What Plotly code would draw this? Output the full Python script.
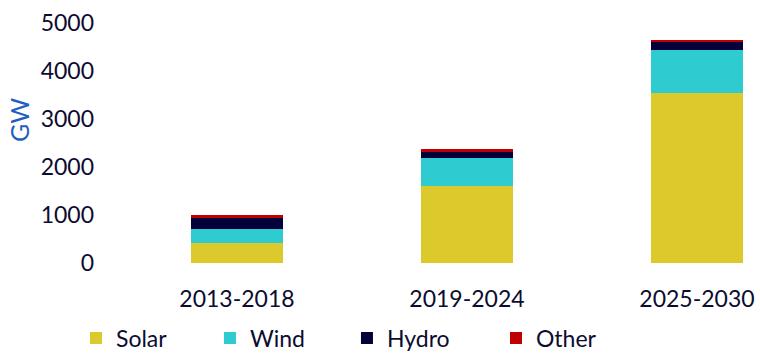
import plotly.graph_objects as go

periods = ["2013-2018", "2019-2024", "2025-2030"]
solar = [425, 1610, 3550]
wind = [285, 580, 890]
hydro = [230, 130, 165]
other = [50, 55, 30]

series = [
    ("Solar", solar, "#DCC92B"),
    ("Wind", wind, "#2ECBD1"),
    ("Hydro", hydro, "#03003A"),
    ("Other", other, "#C00000"),
]
legend_x = [-0.0286, 0.1729, 0.3789, 0.6030]

FONT = "Lato"
TXT = "#0c0c30"

fig = go.Figure()
legend_ids = ["legend", "legend2", "legend3", "legend4"]
for (name, vals, col), lid in zip(series, legend_ids):
    fig.add_trace(go.Bar(x=periods, y=vals, name=name, marker_color=col,
                         marker_line_width=0, legend=lid))

layout_legends = {}
for lid, lx in zip(legend_ids, legend_x):
    layout_legends[lid] = dict(orientation="h", x=lx, xanchor="left", y=-0.3125,
                               yanchor="middle", bgcolor="rgba(0,0,0,0)",
                               font=dict(family=FONT, size=23, color=TXT), itemwidth=30)

fig.update_layout(
    barmode="stack",
    bargap=0.6,
    width=760, height=361,
    margin=dict(l=95, r=0, t=23, b=98),
    plot_bgcolor="white", paper_bgcolor="white",
    font=dict(family=FONT, size=23, color=TXT),
    showlegend=True,
    **layout_legends,
)
fig.add_annotation(text="GW", xref="paper", yref="paper", x=-0.1143, y=0.596,
                   xanchor="center", yanchor="middle", textangle=-90, showarrow=False,
                   font=dict(family=FONT, size=25, color="#1F5FBF"))
fig.update_xaxes(range=[-0.617, 2.274], showgrid=False, showline=False, zeroline=False,
                 ticks="", ticklabelstandoff=20, tickfont=dict(size=23, color=TXT))
fig.update_yaxes(range=[0, 5000], tickvals=[0, 1000, 2000, 3000, 4000, 5000],
                 showgrid=False, showline=False, zeroline=False, ticks="",
                 tickfont=dict(size=23, color=TXT))

fig.write_html("out.html", post_script="document.body.style.margin='0';",
               config={"displayModeBar": False})
